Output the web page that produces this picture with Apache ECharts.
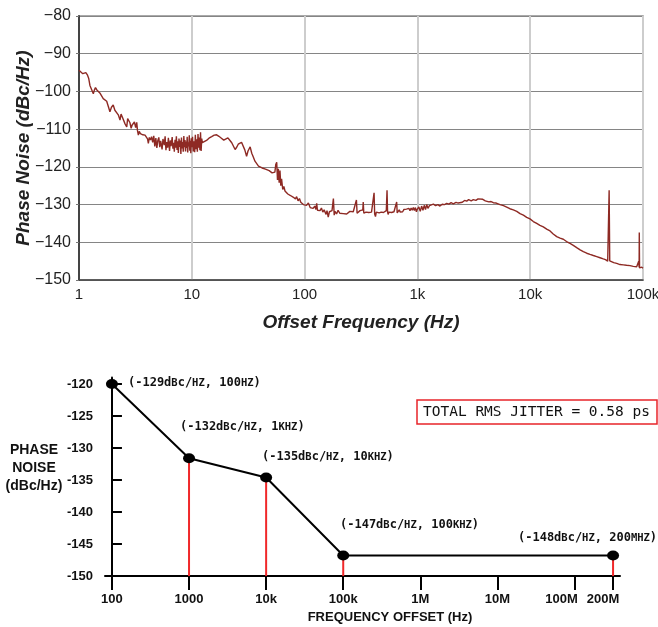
<!DOCTYPE html>
<html>
<head>
<meta charset="utf-8">
<script src="https://cdn.jsdelivr.net/npm/echarts@6/dist/echarts.min.js"></script>
<style>
html,body{margin:0;padding:0;background:#fff;}
#c{width:658px;height:627px;}
</style>
</head>
<body>
<div id="c"></div>
<script>
// ---------- top chart: measured phase noise trace ----------
const topXTickLabels = ['1', '10', '100', '1k', '10k', '100k'];
const traceFreq = [
  1.00,1.04,1.08,1.11,1.15,1.19,1.22,1.25,1.29,1.34,1.37,1.40,1.44,1.47,1.53,1.58,1.64,1.70,1.76,1.82,
  1.88,1.94,2.01,2.08,2.16,2.23,2.31,2.36,2.42,2.47,2.56,2.65,2.70,2.78,2.83,2.90,2.96,3.03,3.10,3.18,
  3.25,3.30,3.36,3.42,3.50,3.60,3.68,3.76,3.85,3.95,4.05,4.12,4.20,4.30,4.40,
  4.5,4.6,4.7,4.8,4.9,5.0,5.1,5.2,5.3,5.45,5.55,5.7,5.8,5.9,6.0,6.1,6.2,6.35,6.45,6.55,6.7,6.8,6.9,
  7.0,7.1,7.2,7.3,7.4,7.5,7.6,7.7,7.8,7.9,8.0,8.1,8.2,8.3,8.4,8.5,8.6,8.7,8.8,8.9,9.0,9.1,9.2,9.3,
  9.4,9.5,9.6,9.7,9.8,9.9,10.0,10.15,10.3,10.45,10.6,10.75,10.9,11.05,11.2,11.35,11.5,11.65,11.8,11.95,
  12.1,12.25,12.4,12.6,
  12.8,13.5,14.2,15.0,15.8,16.6,17.4,18.3,19.2,20.0,20.9,21.8,22.6,23.4,24.2,25.0,25.8,26.7,27.6,28.6,
  29.5,30.6,31.5,32.9,34.0,35.1,36.3,37.6,39.0,40.5,42.0,43.5,45.0,46.8,48.5,50.0,51.5,53.0,54.5,55.5,
  56.6,57.5,58.5,59.5,60.5,61.5,62.5,64.0,65.5,67.0,69.0,71.0,73.0,75.0,77.0,79.0,81.0,83.0,85.0,87.5,
  90.0,92.5,95.0,97.5,100,
  104,108,112,116,119,123,126,128,130,134,137,141,145,149,152,155,158,162,166,171,175,180,183,186,192,
  198,205,213,220,228,236,244,252,261,270,280,288,292,300,310,320,328,331,335,342,350,360,370,380,392,
  405,413,418,425,432,440,450,458,466,478,490,500,510,520,530,538,544,550,560,575,590,605,620,635,645,
  655,662,675,690,705,720,740,760,780,800,820,840,860,880,900,920,940,960,980,
  1000,1030,1060,1090,1120,1150,1180,1210,1240,1280,1320,1385,1450,1520,1585,1660,1740,1818,1900,1990,
  2080,2200,2300,2386,2500,2620,2735,2850,3000,3130,3300,3450,3590,3800,4000,4115,4300,4500,4710,5000,
  5400,5800,6190,6600,7085,7600,8125,8700,9310,9956,10660,11420,12200,13070,14000,14990,16000,17180,
  18400,19670,21000,22540,24100,25830,27700,29580,31700,33910,36300,38900,41600,44460,46500,48640,
  49600,50100,50700,51730,55000,58480,62500,66870,71500,76740,82000,87900,90500,91600,92400,92700,
  93200,95400,97500,100000
];
const traceDb = [
  -94.4,-94.7,-95.3,-95.5,-95.0,-95.7,-96.6,-98.4,-98.0,-100.6,-99.6,-99.0,-99.6,-99.3,-100.4,-100.9,-101.9,-101.6,-102.6,-104.0,
  -105.4,-104.2,-103.6,-105.0,-104.5,-106.2,-107.6,-106.0,-106.8,-106.3,-108.6,-109.4,-107.2,-107.0,-108.3,-109.8,-108.9,-109.2,-108.1,-109.6,
  -108.2,-110.4,-111.6,-110.6,-111.2,-110.9,-111.5,-111.1,-111.6,-111.2,-112.6,-113.8,-112.2,-112.9,-112.0,
  -113.5,-111.8,-114.6,-112.4,-115.0,-113.0,-112.2,-114.8,-113.1,-115.4,-112.6,-114.2,-111.9,-115.6,-113.4,-114.9,-112.3,-115.8,-113.0,-114.5,-112.1,-115.2,-113.6,
  -116.0,-112.8,-114.9,-111.9,-115.5,-113.2,-116.3,-112.5,-114.7,-113.0,-116.6,-112.2,-115.1,-113.4,-116.0,-111.8,-114.8,-112.9,-115.9,-113.3,-115.0,-112.0,-116.2,-113.5,
  -114.6,-111.6,-115.7,-113.1,-116.4,-112.4,-114.8,-112.0,-115.9,-113.2,-116.1,-111.5,-115.3,-112.7,-116.0,-111.3,-114.9,-112.2,-115.6,-110.8,
  -115.8,-112.5,-113.6,-113.2,
  -113.4,-113.0,-112.4,-112.0,-111.6,-111.5,-111.9,-112.4,-112.9,-112.6,-112.3,-113.0,-113.6,-113.9,-115.4,-114.8,-114.0,-113.7,-113.5,-113.3,
  -115.5,-117.2,-115.8,-114.7,-116.4,-117.4,-118.5,-118.9,-119.8,-119.6,-120.3,-120.1,-120.6,-120.4,-121.0,-120.8,-121.6,-122.0,-121.4,-119.4,
  -118.8,-123.5,-120.5,-124.2,-121.0,-125.0,-123.2,-126.0,-125.2,-126.4,-126.0,-127.2,-126.8,-127.6,-127.2,-128.0,-127.5,-128.5,-127.9,-129.0,
  -128.4,-129.4,-129.0,-130.0,-129.6,
  -130.2,-129.6,-130.8,-130.3,-131.0,-130.4,-131.3,-129.7,-131.5,-131.0,-131.6,-130.9,-132.0,-131.4,-131.8,-132.6,-131.6,-133.3,-131.9,-132.2,-131.6,-128.4,-132.8,-131.8,-132.5,
  -131.5,-132.3,-131.9,-132.4,-132.0,-132.5,-132.3,-131.8,-132.2,-131.9,-131.5,-128.8,-132.3,-131.9,-131.6,-132.0,-131.4,-129.3,-132.3,-131.8,-132.0,-131.7,-132.1,-131.9,-132.0,
  -131.7,-126.9,-132.5,-133.2,-132.0,-132.4,-131.8,-132.2,-131.9,-132.0,-131.6,-132.1,-131.8,-132.0,-131.6,-126.2,-131.9,-132.6,-132.0,-131.7,-132.1,-131.6,-131.9,-131.5,-132.0,
  -129.3,-132.2,-131.8,-131.4,-132.0,-131.5,-131.9,-131.3,-131.8,-131.2,-131.7,-131.0,-131.6,-130.9,-131.5,-130.8,-131.6,-130.8,-131.9,
  -131.2,-130.6,-131.8,-130.4,-131.5,-130.2,-131.3,-130.0,-131.0,-130.3,-130.6,-129.9,-130.3,-130.0,-130.4,-129.9,-130.0,-129.7,-129.9,-129.5,
  -129.8,-129.4,-129.6,-129.2,-129.4,-128.9,-129.1,-128.7,-129.0,-128.7,-128.9,-128.5,-128.7,-128.6,-129.0,-128.8,-129.3,-129.2,-129.5,-129.6,
  -130.0,-130.3,-130.7,-131.1,-131.4,-131.8,-132.4,-132.8,-133.4,-133.8,-134.5,-135.0,-135.5,-135.9,-136.5,-137.0,-137.8,-138.5,
  -138.9,-139.2,-139.8,-140.3,-140.8,-141.4,-142.0,-142.5,-142.9,-143.2,-143.5,-143.8,-144.1,-144.4,-144.6,-145.0,
  -144.8,-126.2,-144.9,-145.3,-145.4,-145.6,-145.9,-146.0,-146.1,-146.2,-146.4,-146.5,-146.4,-145.0,-146.6,-137.4,
  -146.8,-146.9,-146.6,-146.9
];

// ---------- bottom chart: piecewise phase-noise profile ----------
const profilePos = [0, 1, 2, 3, 6.5];              // position on the schematic decade axis
const profileDb = [-120, -131.6, -134.6, -146.8, -146.8];
const profileLabels = [
  '(-129dBc/HZ, 100HZ)',
  '(-132dBc/HZ, 1KHZ)',
  '(-135dBc/HZ, 10KHZ)',
  '(-147dBc/HZ, 100KHZ)',
  '(-148dBc/HZ, 200MHZ)'
];
const bottomTickPos = [0, 1, 2, 3, 4, 5, 6, 6.5];
const bottomTickLabels = ['100', '1000', '10k', '100k', '1M', '10M', '100M', '200M'];
const bottomYTicks = [-150, -145, -140, -135, -130, -125, -120];
const jitterText = 'TOTAL RMS JITTER = 0.58 ps';

// label positions (layout only)
const labelAnchors = [[128, 383], [180, 427], [262, 457], [340, 525], [518, 538]];

const chart = echarts.init(document.getElementById('c'), null, {renderer: 'canvas'});

const traceData = traceFreq.map((f, i) => [f, traceDb[i]]);
const profileData = profilePos.map((p, i) => [p, profileDb[i]]);

const dropSeries = profilePos.slice(1).map((p, i) => ({
  type: 'line', xAxisIndex: 1, yAxisIndex: 1, z: 2,
  symbol: 'none', silent: true, animation: false,
  lineStyle: {color: '#f0282a', width: 2},
  data: [[p, profileDb[i + 1]], [p, -150]]
}));

const graphics = profileLabels.map((t, i) => ({
  type: 'text', x: labelAnchors[i][0], y: labelAnchors[i][1], z: 10,
  style: {
    text: t.replace(/([A-Z]+)/g, '{s|$1}'),
    font: 'bold 12px "DejaVu Sans Mono", monospace',
    fill: '#111', verticalAlign: 'middle',
    rich: {s: {fontSize: 10.5, fontWeight: 'bold', fontFamily: 'DejaVu Sans Mono'}}
  }
}));
graphics.push({
  type: 'rect', shape: {x: 417, y: 400, width: 240, height: 24}, z: 10,
  style: {fill: '#fff', stroke: '#e8242a', lineWidth: 1.5}
});
graphics.push({
  type: 'text', x: 423, y: 412.5, z: 11,
  style: {text: jitterText, font: '14.5px "DejaVu Sans Mono", monospace', fill: '#111', verticalAlign: 'middle'}
});
graphics.push({
  type: 'text', x: 34, y: 468, z: 10,
  style: {text: 'PHASE\nNOISE\n(dBc/Hz)', font: 'bold 14px "Liberation Sans", Arial, sans-serif',
    fill: '#111', align: 'center', verticalAlign: 'middle', lineHeight: 18}
});
graphics.push({
  type: 'text', x: 390, y: 617, z: 10,
  style: {text: 'FREQUENCY OFFSET (Hz)', font: 'bold 13px "Liberation Sans", Arial, sans-serif',
    fill: '#111', align: 'center', verticalAlign: 'middle'}
});

chart.setOption({
  animation: false,
  backgroundColor: '#fff',
  grid: [
    {left: 79, right: 15, top: 16, bottom: 347, show: true, borderColor: '#8f8f8f', borderWidth: 1.5, outerBoundsMode: 'none', containLabel: false},
    {left: 105, right: 38, top: 377.6, bottom: 51, outerBoundsMode: 'none', containLabel: false}
  ],
  xAxis: [
    {
      type: 'log', logBase: 10, min: 1, max: 100000, gridIndex: 0,
      name: 'Offset Frequency (Hz)', nameLocation: 'middle', nameGap: 33, nameMoveOverlap: false,
      nameTextStyle: {fontFamily: 'Liberation Sans, Arial, sans-serif', fontSize: 19, fontWeight: 'bold', fontStyle: 'italic', color: '#222'},
      axisLine: {show: true, lineStyle: {color: '#444', width: 1.5}},
      axisTick: {show: false},
      minorTick: {show: false},
      splitLine: {show: true, lineStyle: {color: '#cdcdcd', width: 2}},
      axisLabel: {
        margin: 7, fontSize: 15, color: '#222', fontFamily: 'Liberation Sans, Arial, sans-serif',
        formatter: v => topXTickLabels[Math.round(Math.log10(v))]
      }
    },
    {
      type: 'value', min: -0.09, max: 6.59, gridIndex: 1,
      axisLine: {show: true, lineStyle: {color: '#000', width: 2}},
      axisTick: {show: true, length: 14, customValues: bottomTickPos, lineStyle: {color: '#000', width: 2}},
      splitLine: {show: false},
      axisLabel: {
        customValues: bottomTickPos, margin: 17,
        fontSize: 13, fontWeight: 'bold', color: '#111', fontFamily: 'Liberation Sans, Arial, sans-serif',
        formatter: v => {
          const i = bottomTickPos.indexOf(v);
          const t = bottomTickLabels[i];
          if (t === '100M') return '{a|' + t + '}';
          if (t === '200M') return '{b|' + t + '}';
          return t;
        },
        rich: {
          a: {fontSize: 13, fontWeight: 'bold', color: '#111', fontFamily: 'Liberation Sans', padding: [0, 26, 0, 0]},
          b: {fontSize: 13, fontWeight: 'bold', color: '#111', fontFamily: 'Liberation Sans', padding: [0, 20, 0, 0]}
        }
      }
    }
  ],
  yAxis: [
    {
      type: 'value', min: -150, max: -80, interval: 10, gridIndex: 0,
      name: 'Phase Noise (dBc/Hz)', nameLocation: 'middle', nameGap: 46, nameMoveOverlap: false,
      nameTextStyle: {fontFamily: 'Liberation Sans, Arial, sans-serif', fontSize: 19, fontWeight: 'bold', fontStyle: 'italic', color: '#222'},
      axisLine: {show: true, lineStyle: {color: '#444', width: 2}},
      axisTick: {show: true, length: 3, lineStyle: {color: '#777'}},
      splitLine: {show: true, lineStyle: {color: '#858585', width: 1.2}},
      axisLabel: {
        margin: 8, fontSize: 16, color: '#222', fontFamily: 'Liberation Sans, Arial, sans-serif',
        formatter: v => (v < 0 ? '\u2212' : '') + Math.abs(v)
      }
    },
    {
      type: 'value', min: -150, max: -119, gridIndex: 1,
      axisLine: {show: true, onZero: true, lineStyle: {color: '#000', width: 2}},
      axisTick: {show: true, inside: true, length: 10, customValues: bottomYTicks, lineStyle: {color: '#000', width: 2}},
      splitLine: {show: false},
      axisLabel: {
        customValues: bottomYTicks, margin: 12,
        fontSize: 13, fontWeight: 'bold', color: '#111', fontFamily: 'Liberation Sans, Arial, sans-serif',
        formatter: v => String(v)
      }
    }
  ],
  series: [
    {
      type: 'line', xAxisIndex: 0, yAxisIndex: 0, data: traceData,
      showSymbol: false, symbol: 'none', silent: true,
      lineStyle: {color: '#8e2a24', width: 1.4}
    },
    {
      type: 'line', xAxisIndex: 1, yAxisIndex: 1, data: profileData, z: 3,
      symbol: 'circle', symbolSize: [12, 10], clip: false,
      itemStyle: {color: '#000'},
      lineStyle: {color: '#000', width: 2}
    }
  ].concat(dropSeries),
  graphic: graphics
});
</script>
</body>
</html>
